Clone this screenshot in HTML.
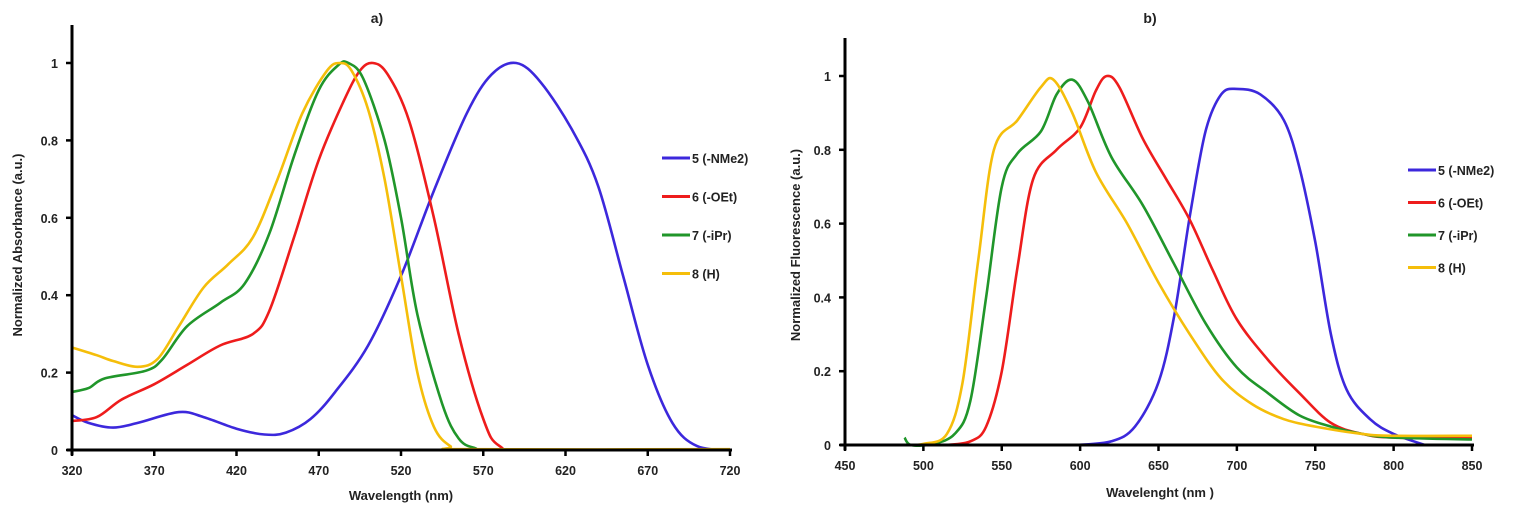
<!DOCTYPE html>
<html><head><meta charset="utf-8"><style>
body{margin:0;background:#fff}
svg{display:block}
text{font-family:"Liberation Sans",sans-serif;font-weight:bold;fill:#222}
</style></head><body>
<svg id="s" width="1517" height="517" xmlns="http://www.w3.org/2000/svg">
<text x="377" y="23" font-size="14" text-anchor="middle">a)</text>
<text x="1150" y="23" font-size="14" text-anchor="middle">b)</text>
<text x="401" y="500" font-size="13" text-anchor="middle">Wavelength (nm)</text>
<text x="1160" y="497" font-size="13" text-anchor="middle">Wavelenght (nm )</text>
<text transform="translate(22,245) rotate(-90)" font-size="13" text-anchor="middle">Normalized Absorbance (a.u.)</text>
<text transform="translate(800,245) rotate(-90)" font-size="13" text-anchor="middle">Normalized Fluorescence (a.u.)</text>
<g id="g"></g>
</svg>
<script>
const NS="http://www.w3.org/2000/svg",g=document.getElementById('g');
function el(t,a,txt){const e=document.createElementNS(NS,t);for(const k in a)e.setAttribute(k,a[k]);if(txt!=null)e.textContent=txt;g.appendChild(e);return e;}
function path(pts){let d='M'+pts[0][0]+','+pts[0][1];for(let i=0;i<pts.length-1;i++){const p0=pts[i-1]||pts[i],p1=pts[i],p2=pts[i+1],p3=pts[i+2]||p2;
const c1=[p1[0]+(p2[0]-p0[0])/6,p1[1]+(p2[1]-p0[1])/6],c2=[p2[0]-(p3[0]-p1[0])/6,p2[1]-(p3[1]-p1[1])/6];
d+=`C${c1[0].toFixed(1)},${c1[1].toFixed(1)} ${c2[0].toFixed(1)},${c2[1].toFixed(1)} ${p2[0].toFixed(1)},${p2[1].toFixed(1)}`;}return d;}
const C={b:'#3c28dc',r:'#ee1c1c',g:'#20962a',y:'#f5be0a'};
function chart(o){
 const X=v=>o.x0+(v-o.xa)/(o.xb-o.xa)*(o.x1-o.x0),Y=v=>o.y0-v*(o.y0-o.y1);
 for(const k in o.data){el('path',{d:path(o.data[k].map(p=>[X(p[0]),Y(p[1])])),fill:'none',stroke:C[k],'stroke-width':2.6,'stroke-linejoin':'round'});}
 el('line',{x1:o.x0,y1:o.top,x2:o.x0,y2:o.y0+5,stroke:'#000','stroke-width':3});
 el('line',{x1:o.x0-5,y1:o.y0,x2:o.x1+2,y2:o.y0,stroke:'#000','stroke-width':3});
 for(let v=o.xa;v<=o.xb;v+=o.xs){el('line',{x1:X(v),y1:o.y0,x2:X(v),y2:o.y0+6,stroke:'#000','stroke-width':2.5});el('text',{x:X(v),y:o.y0+25,'font-size':12.5,'text-anchor':'middle'},v);}
 [0,.2,.4,.6,.8,1].forEach(v=>{el('line',{x1:o.x0-6,y1:Y(v),x2:o.x0,y2:Y(v),stroke:'#000','stroke-width':2.5});el('text',{x:o.x0-14,y:Y(v)+5,'font-size':12.5,'text-anchor':'end'},v);});
 const L=[['b','5 (-NMe2)'],['r','6 (-OEt)'],['g','7 (-iPr)'],['y','8 (H)']];
 L.forEach((l,i)=>{const y=o.ly[0]+i*o.ly[1];el('line',{x1:o.lx,y1:y,x2:o.lx+28,y2:y,stroke:C[l[0]],'stroke-width':3});el('text',{x:o.lx+30,y:y+5,'font-size':12.5},l[1]);});
}
chart({x0:72,x1:730,xa:320,xb:720,xs:50,y0:450,y1:63,top:25,lx:662,ly:[158,38.5],data:{
b:[[320,.09],[330,.07],[345,.058],[360,.07],[385,.098],[400,.085],[420,.055],[437,.04],[450,.045],[465,.08],[480,.15],[500,.27],[520,.45],[540,.67],[560,.87],[575,.97],[590,1],[605,.95],[625,.82],[640,.68],[655,.45],[670,.22],[685,.07],[700,.01],[720,0]],
r:[[320,.075],[335,.085],[350,.13],[370,.17],[390,.22],[410,.27],[430,.3],[440,.36],[455,.55],[470,.75],[485,.9],[495,.98],[503,1],[512,.97],[525,.85],[540,.6],[555,.3],[570,.08],[580,.01],[600,0],[720,0]],
g:[[320,.15],[330,.16],[340,.185],[365,.205],[375,.235],[390,.32],[410,.38],[425,.43],[440,.56],[455,.76],[470,.93],[482,.995],[488,1],[497,.96],[510,.8],[520,.6],[530,.35],[545,.12],[555,.03],[565,.005],[580,0],[720,0]],
y:[[320,.265],[335,.245],[345,.23],[360,.215],[372,.235],[385,.32],[400,.42],[415,.48],[430,.55],[445,.7],[460,.87],[475,.98],[483,1],[490,.98],[500,.88],[510,.7],[520,.45],[530,.2],[540,.06],[550,.01],[560,.002],[720,.002]]}});
chart({x0:845,x1:1472,xa:450,xb:850,xs:50,y0:445,y1:76,top:38,lx:1408,ly:[170,32.5],data:{
b:[[598,0],[620,.01],[635,.05],[650,.17],[660,.35],[670,.62],[680,.85],[690,.95],[700,.965],[715,.95],[730,.88],[740,.75],[750,.55],[760,.3],[770,.15],[785,.07],[800,.03],[820,0]],
r:[[515,0],[530,.01],[540,.05],[550,.2],[560,.48],[570,.72],[585,.8],[600,.86],[610,.96],[617,1],[625,.97],[640,.83],[655,.72],[670,.61],[685,.47],[700,.34],[720,.23],[740,.14],[760,.06],[780,.03],[800,.02],[850,.02]],
g:[[488,.02],[492,0],[505,.002],[520,.03],[530,.12],[540,.4],[550,.7],[560,.79],[575,.85],[585,.95],[595,.99],[605,.93],[620,.78],[640,.65],[660,.49],[680,.33],[700,.21],[720,.14],[740,.08],[760,.05],[780,.03],[800,.02],[850,.015]],
y:[[488,0],[500,.003],[515,.03],[525,.17],[535,.5],[545,.8],[560,.88],[575,.97],[583,.99],[595,.9],[610,.74],[630,.6],[650,.44],[670,.3],[690,.18],[710,.11],[730,.07],[750,.05],[780,.03],[800,.025],[850,.025]]}});
</script>
</body></html>
